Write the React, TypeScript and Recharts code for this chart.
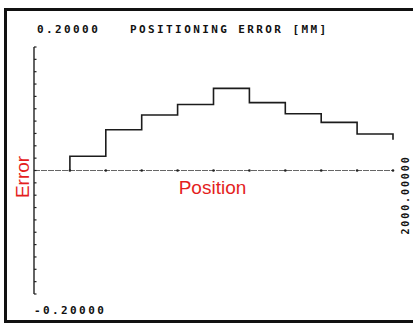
import { LineChart, Line, XAxis, YAxis, ReferenceLine, ReferenceDot } from 'recharts';

// step values (mm), each holds until the next position
const positions = [200, 200, 400, 600, 800, 1000, 1200, 1400, 1600, 1800, 2000];
const errors = [0, 0.023, 0.066, 0.09, 0.107, 0.133, 0.11, 0.092, 0.078, 0.059, 0.05];

const xTicks = [200, 400, 600, 800, 1000, 1200, 1400, 1600, 1800, 2000];
const yTicks = [
  -0.2, -0.18, -0.16, -0.14, -0.12, -0.1, -0.08, -0.06, -0.04, -0.02, 0,
  0.02, 0.04, 0.06, 0.08, 0.1, 0.12, 0.14, 0.16, 0.18, 0.2,
];

const title = 'POSITIONING ERROR [MM]';
const yMaxLabel = '0.20000';
const yMinLabel = '-0.20000';
const xMaxLabel = '2000.00000';

const data = positions.map((p, i) => ({ position: p, error: errors[i] }));

const MONO = '"DejaVu Sans Mono", "Liberation Mono", monospace';
const RED = '#e41e1e';

export default function App() {
  return (
    <div style={{ position: 'absolute', left: 0, top: 0, width: 413, height: 324, background: '#fff', overflow: 'hidden' }}>
      <div
        style={{
          position: 'absolute',
          left: 4,
          top: 8,
          width: 420,
          height: 309,
          borderLeft: '3px solid #111',
          borderTop: '3px solid #111',
          borderBottom: '3px solid #111',
        }}
      />
      <div style={{ position: 'absolute', left: 0, top: 0 }}>
        <LineChart width={413} height={324} data={data} margin={{ top: 47, right: 20, bottom: 30, left: 34 }}>
          <XAxis dataKey="position" type="number" domain={[0, 2000]} hide />
          <YAxis
            type="number"
            domain={[-0.2, 0.2]}
            ticks={yTicks}
            width={1}
            mirror
            tick={() => <g />}
            tickSize={2.5}
            axisLine={{ stroke: '#222', strokeWidth: 1.4 }}
            tickLine={{ stroke: '#222', strokeWidth: 1.2 }}
            interval={0}
          />
          <ReferenceLine y={0} stroke="#666" strokeWidth={1} strokeDasharray="6 1" />
          {xTicks.map((t) => (
            <ReferenceDot key={t} x={t} y={0} r={1.3} fill="#222" stroke="none" />
          ))}
          <Line
            type="stepAfter"
            dataKey="error"
            stroke="#1c1c1c"
            strokeWidth={1.6}
            dot={false}
            isAnimationActive={false}
          />
        </LineChart>
      </div>
      <svg width={413} height={324} style={{ position: 'absolute', left: 0, top: 0, pointerEvents: 'none' }}>
        <g fontFamily={MONO} fontSize={11} fontWeight="bold" fill="#111" letterSpacing={2.4}>
          <text x={37} y={32.5}>{yMaxLabel}</text>
          <text x={130} y={32.5}>{title}</text>
          <text x={34} y={313.5}>{yMinLabel}</text>
        </g>
        <text
          transform="translate(409,195) rotate(-90)"
          textAnchor="middle"
          fontFamily={MONO}
          fontSize={10}
          fontWeight="bold"
          letterSpacing={1.9}
          fill="#111"
        >
          {xMaxLabel}
        </text>
        <text
          transform="translate(29,177) rotate(-90)"
          textAnchor="middle"
          fontFamily='"Liberation Sans", Arial, sans-serif'
          fontSize={19}
          fill={RED}
        >
          Error
        </text>
        <text x={212.5} y={194} textAnchor="middle" fontFamily='"Liberation Sans", Arial, sans-serif' fontSize={19} fill={RED}>
          Position
        </text>
      </svg>
    </div>
  );
}
